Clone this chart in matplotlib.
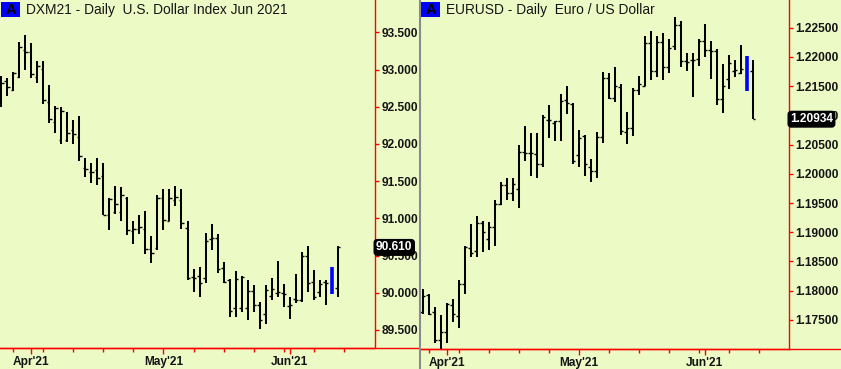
import matplotlib
matplotlib.use('Agg')
import matplotlib.pyplot as plt
from matplotlib.lines import Line2D
from matplotlib.patches import Rectangle
import matplotlib.transforms as mtransforms
import numpy as np
import pandas as pd

# ---------------- data ----------------
dates = pd.bdate_range('2021-03-25', '2021-06-11')   # 57 trading days

dx_title = "DXM21 - Daily  U.S. Dollar Index Jun 2021"
dx_open = [92.59, 92.85, 92.73, 92.90, 93.26, 93.23, 92.90, 93.01, 92.57, 92.30,
           92.06, 92.06, 92.19, 92.10, 91.68, 91.63, 91.65, 91.57, 91.04, 91.09,
           91.09, 91.28, 90.83, 90.86, 90.86, 90.59, 90.60, 91.28, 90.97, 91.25,
           91.25, 90.87, 90.21, 90.22, 90.20, 90.72, 90.73, 90.33, 90.17, 89.79,
           89.80, 89.80, 90.02, 89.84, 89.71, 89.96, 90.00, 90.00, 89.82, 89.92,
           89.90, 90.50, 90.14, 90.01, 90.14, 90.30, 90.07]
dx_high = [92.92, 92.88, 92.97, 93.37, 93.46, 93.36, 93.11, 93.11, 92.79, 92.51,
           92.50, 92.43, 92.32, 92.37, 91.81, 91.75, 91.81, 91.75, 91.27, 91.43,
           91.42, 91.29, 90.97, 91.05, 91.10, 90.76, 91.32, 91.39, 91.39, 91.44,
           91.39, 90.96, 90.32, 90.34, 90.80, 90.92, 90.79, 90.42, 90.19, 90.29,
           90.23, 90.17, 90.11, 89.87, 90.11, 90.20, 90.43, 90.12, 89.95, 90.25,
           90.55, 90.63, 90.31, 90.17, 90.17, 90.34, 90.63]
dx_low = [92.50, 92.64, 92.71, 92.88, 92.99, 92.88, 92.82, 92.54, 92.28, 92.15,
          92.00, 92.03, 92.00, 91.77, 91.55, 91.48, 91.45, 91.04, 90.85, 91.06,
          90.96, 90.78, 90.66, 90.79, 90.52, 90.40, 90.57, 90.85, 90.96, 91.16,
          90.86, 90.17, 90.01, 89.95, 90.13, 90.57, 90.26, 90.13, 89.67, 89.68,
          89.74, 89.63, 89.74, 89.51, 89.58, 89.90, 89.94, 89.81, 89.65, 89.86,
          89.87, 90.01, 89.90, 89.95, 89.83, 89.98, 89.95]
dx_close = [92.82, 92.77, 92.96, 93.31, 93.23, 92.94, 93.05, 92.59, 92.33, 92.48,
            92.44, 92.15, 92.13, 91.84, 91.66, 91.62, 91.54, 91.05, 91.26, 91.20,
            91.32, 90.85, 90.86, 90.88, 90.59, 90.53, 91.27, 90.98, 91.27, 91.29,
            90.94, 90.20, 90.20, 90.13, 90.69, 90.74, 90.32, 90.15, 89.75, 90.19,
            90.21, 90.02, 89.84, 89.64, 90.04, 90.05, 90.01, 89.99, 89.83, 89.90,
            90.50, 90.13, 89.94, 90.12, 90.13, 90.00, 90.61]
dx_yticks = [89.5, 90.0, 90.5, 91.0, 91.5, 92.0, 92.5, 93.0, 93.5]

eu_title = "EURUSD - Daily  Euro / US Dollar"
eu_open = [1.1763, 1.1792, 1.1763, 1.1716, 1.1729, 1.1775, 1.1757, 1.1812, 1.1873, 1.1868,
           1.1915, 1.1889, 1.1909, 1.1949, 1.1980, 1.1967, 1.1974, 1.2037, 1.2035, 1.2034,
           1.2016, 1.2092, 1.2087, 1.2091, 1.2126, 1.2120, 1.2033, 1.2064, 1.2011, 1.2004,
           1.2063, 1.2164, 1.2130, 1.2149, 1.2072, 1.2079, 1.2144, 1.2151, 1.2224, 1.2176,
           1.2225, 1.2182, 1.2218, 1.2254, 1.2193, 1.2195, 1.2196, 1.2228, 1.2212, 1.2210,
           1.2128, 1.2163, 1.2176, 1.2172, 1.2195, 1.2175]
eu_high = [1.1803, 1.1795, 1.1773, 1.1759, 1.1779, 1.1785, 1.1819, 1.1877, 1.1914, 1.1927,
           1.1920, 1.1918, 1.1956, 1.1986, 1.1993, 1.1993, 1.2049, 1.2081, 1.2069, 1.2069,
           1.2100, 1.2117, 1.2091, 1.2136, 1.2151, 1.2121, 1.2075, 1.2066, 1.2026, 1.2072,
           1.2174, 1.2172, 1.2183, 1.2153, 1.2106, 1.2147, 1.2168, 1.2235, 1.2245, 1.2235,
           1.2240, 1.2230, 1.2268, 1.2261, 1.2207, 1.2206, 1.2231, 1.2256, 1.2227, 1.2214,
           1.2187, 1.2204, 1.2195, 1.2220, 1.2201, 1.2194]
eu_low = [1.1760, 1.1759, 1.1711, 1.1701, 1.1710, 1.1746, 1.1736, 1.1795, 1.1858, 1.1858,
          1.1866, 1.1870, 1.1876, 1.1947, 1.1956, 1.1954, 1.1942, 1.2022, 1.1997, 1.1993,
          1.2011, 1.2061, 1.2056, 1.2056, 1.2103, 1.2016, 1.2011, 1.1997, 1.1986, 1.1993,
          1.2052, 1.2128, 1.2123, 1.2066, 1.2051, 1.2064, 1.2135, 1.2150, 1.2161, 1.2165,
          1.2161, 1.2172, 1.2212, 1.2182, 1.2176, 1.2132, 1.2185, 1.2200, 1.2163, 1.2117,
          1.2104, 1.2145, 1.2165, 1.2171, 1.2141, 1.2093]
eu_close = [1.1791, 1.1761, 1.1716, 1.1729, 1.1777, 1.1761, 1.1812, 1.1874, 1.1864, 1.1915,
            1.1900, 1.1909, 1.1949, 1.1980, 1.1967, 1.1983, 1.2037, 1.2035, 1.2035, 1.2016,
            1.2098, 1.2092, 1.2090, 1.2124, 1.2121, 1.2022, 1.2062, 1.2016, 1.2004, 1.2063,
            1.2164, 1.2130, 1.2150, 1.2074, 1.2079, 1.2144, 1.2153, 1.2224, 1.2176, 1.2225,
            1.2182, 1.2216, 1.2254, 1.2193, 1.2192, 1.2195, 1.2228, 1.2212, 1.2210, 1.2128,
            1.2150, 1.2190, 1.2178, 1.2180, 1.2150, 1.20934]
eu_yticks = [1.175, 1.180, 1.185, 1.190, 1.195, 1.200, 1.205, 1.210, 1.215, 1.220, 1.225]

month_labels = ["Apr'21", "May'21", "Jun'21"]

# ---------------- style ----------------
BG = '#ecfbc6'
RED = '#ff0000'
TXT = '#141414'
W, H = 841, 369
FONT = 'Liberation Sans'

plt.rcParams['font.family'] = [FONT, 'DejaVu Sans']

fig = plt.figure(figsize=(W / 100, H / 100), dpi=100, facecolor=BG)


def rect(x0, x1, ytop, ybot):
    return [x0 / W, (H - ybot) / H, (x1 - x0) / W, (ybot - ytop) / H]


# calendar positions (common index; index 0 = 2021-03-25)
cal = pd.bdate_range('2021-03-25', '2021-06-30')
month_pos = [i for i in range(1, len(cal)) if cal[i].month != cal[i - 1].month][:3]
monday_pos = [i for i, d in enumerate(cal) if d.weekday() == 0 and i <= 57]


def draw_panel(ax, pos, o, h, l, c, yticks, fmt, ylim, xlim, title, last_fmt):
    ax.set_facecolor(BG)
    pos = np.asarray(pos, dtype=float)
    o, h, l, c = map(np.asarray, (o, h, l, c))
    n = len(pos)
    normal = np.arange(n) != n - 2
    ax.vlines(pos[normal], l[normal], h[normal], color='black', lw=1.45)
    ax.hlines(o[normal], pos[normal] - 0.42, pos[normal], color='black', lw=1.0)
    ax.hlines(c[normal], pos[normal], pos[normal] + 0.42, color='black', lw=1.0)
    hb = n - 2
    ax.vlines([pos[hb]], [l[hb]], [h[hb]], color='#0000ff', lw=2.6)

    ax.set_xlim(*xlim)
    ax.set_ylim(*ylim)
    for s in ('top', 'left'):
        ax.spines[s].set_visible(False)
    for s in ('right', 'bottom'):
        ax.spines[s].set_color(RED)
        ax.spines[s].set_linewidth(1.0)
    ax.yaxis.tick_right()
    ax.set_yticks(yticks, [fmt % v for v in yticks], fontweight='bold',
                  fontsize=8.6, color=TXT)
    ax.tick_params(axis='y', length=3, width=1, color=RED, pad=1.8)
    ax.set_xticks(month_pos, month_labels, fontweight='bold', fontsize=8.6, color=TXT)
    ax.set_xticks(monday_pos, minor=True)
    ax.tick_params(axis='x', which='major', length=4, width=1, color=RED, pad=1.6)
    ax.tick_params(axis='x', which='minor', length=3, width=1, color=RED)

    # last price marker
    tr = mtransforms.blended_transform_factory(ax.transAxes, ax.transData)
    ax.text(1.004, c[-1], last_fmt % c[-1], transform=tr, ha='left', va='center',
            fontsize=8.6, fontweight='bold', color='white', zorder=20, clip_on=False,
            bbox=dict(boxstyle='round,pad=0.15,rounding_size=0.25', fc='black',
                      ec='black'))


# Left panel: USD index
axL = fig.add_axes(rect(0, 374.5, 0, 348.3))
posL = list(range(len(dx_close)))
draw_panel(axL, posL, dx_open, dx_high, dx_low, dx_close, dx_yticks, '%.3f',
           (89.254, 93.935), (-1 / 6, 373.5 / 6 - 1 / 6), dx_title, '%.3f')

# Right panel: EURUSD (starts one day later)
axR = fig.add_axes(rect(421, 788.5, 0, 349))
posR = list(range(1, 1 + len(eu_close)))
draw_panel(axR, posR, eu_open, eu_high, eu_low, eu_close, eu_yticks, '%.5f',
           (1.17003, 1.22973), ((421 - 416.7) / 6, (788.5 - 416.7) / 6), eu_title, '%.5f')

# red bottom lines extending under the price scale
fig.add_artist(Line2D([0, 418 / W], [(H - 348.3) / H] * 2, color=RED, lw=1.0,
                      transform=fig.transFigure))
fig.add_artist(Line2D([421 / W, 1], [(H - 349) / H] * 2, color=RED, lw=1.0,
                      transform=fig.transFigure))

# separator between panels
fig.add_artist(Line2D([419.5 / W] * 2, [0, 1], color='#8a8a8a', lw=1.5,
                      transform=fig.transFigure))

# titles with the blue "A" badges
for x0, title in ((1, dx_title), (421, eu_title)):
    fig.add_artist(Rectangle((x0 / W, (H - 16.5) / H), 18.5 / W, 15 / H,
                             transform=fig.transFigure, fc='#0000ff', ec='none'))
    fig.text((x0 + 9.5) / W, (H - 14) / H, 'A', ha='center', va='baseline',
             fontsize=10.5, fontweight='bold', color='black')
    fig.text((x0 + 24.5) / W, (H - 14) / H, title, ha='left', va='baseline',
             fontsize=9.9, color=TXT)

fig.savefig('out.png', dpi=100, facecolor=BG)
